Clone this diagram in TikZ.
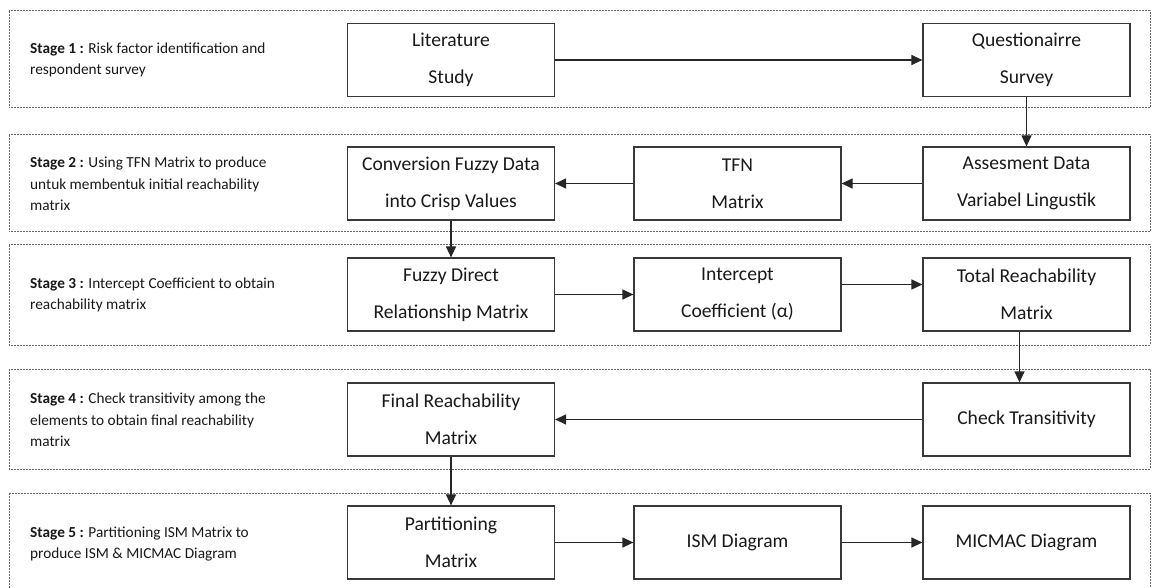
\documentclass[tikz,border=0pt]{standalone}
\usepackage{fontspec}
\setmainfont{Carlito}
\usetikzlibrary{arrows.meta}
\begin{document}
\begin{tikzpicture}[x=1pt,y=-1pt,
  procbox/.style={draw=black!78, line width=1.2pt, minimum width=207pt, minimum height=73pt, inner sep=0pt, align=center, text=black!90, font=\fontsize{19.6}{37}\selectfont},
  stagebox/.style={draw=black!60, line width=1pt, dash pattern=on 2pt off 1pt},
  stagetext/.style={anchor=west, align=left, inner sep=0pt, text=black!90, font=\fontsize{15.3}{21.5}\selectfont},
  flow/.style={line width=1.2pt, draw=black!85, -{Triangle[length=11pt,width=10pt]}}]
\clip (0,0) rectangle (1154,588);
\fill[white] (0,0) rectangle (1154,588);
% stage frames
\draw[stagebox] (9,11) rectangle (1150,108);
\draw[stagebox] (9,135) rectangle (1150,232);
\draw[stagebox] (9,245) rectangle (1150,345);
\draw[stagebox] (9,369) rectangle (1150,469);
\draw[stagebox] (9,493) rectangle (1150,610);
% stage texts
\node[stagetext] (s1) at (30,60) {\textbf{Stage 1 :} Risk factor identification and\\respondent survey};
\node[stagetext] (s2) at (30,184) {\textbf{Stage 2 :} Using TFN Matrix to produce\\untuk membentuk initial reachability\\matrix};
\node[stagetext] (s3) at (30,295) {\textbf{Stage 3 :} Intercept Coefficient to obtain\\reachability matrix};
\node[stagetext] (s4) at (30,420) {\textbf{Stage 4 :} Check transitivity among the\\elements to obtain final reachability\\matrix};
\node[stagetext] (s5) at (30,544) {\textbf{Stage 5 :} Partitioning ISM Matrix to\\produce ISM \& MICMAC Diagram};
% process boxes
\node[procbox] (lit) at (451,60) {Literature\\Study};
\node[procbox] (que) at (1026.5,60) {Questionairre\\Survey};
\node[procbox] (con) at (451,183.5) {Conversion Fuzzy Data\\into Crisp Values};
\node[procbox] (tfn) at (737.5,183.5) {TFN\\Matrix};
\node[procbox] (ass) at (1026.5,183.5) {Assesment Data\\Variabel Lingustik};
\node[procbox] (fdr) at (451,294.5) {Fuzzy Direct\\Relationship Matrix};
\node[procbox] (int) at (737.5,294.5) {Intercept\\Coefficient (α)};
\node[procbox] (tot) at (1026.5,294.5) {Total Reachability\\Matrix};
\node[procbox] (fin) at (451,419.5) {Final Reachability\\Matrix};
\node[procbox] (chk) at (1026.5,419.5) {Check Transitivity};
\node[procbox] (par) at (451,542.5) {Partitioning\\Matrix};
\node[procbox] (ism) at (737.5,542.5) {ISM Diagram};
\node[procbox] (mic) at (1026.5,542.5) {MICMAC Diagram};
% connectors
\draw[flow] (lit) -- (que);
\draw[flow] (que) -- (ass);
\draw[flow] (ass) -- (tfn);
\draw[flow] (tfn) -- (con);
\draw[flow] (con) -- (fdr);
\draw[flow] (fdr) -- (int);
\draw[flow] ([yshift=10pt]int.east) -- ([yshift=10pt]tot.west);
\draw[flow] ([xshift=-7pt]tot.south) -- ([xshift=-7pt]chk.north);
\draw[flow] (chk) -- (fin);
\draw[flow] (fin) -- (par);
\draw[flow] (par) -- (ism);
\draw[flow] (ism) -- (mic);
\end{tikzpicture}
\end{document}
